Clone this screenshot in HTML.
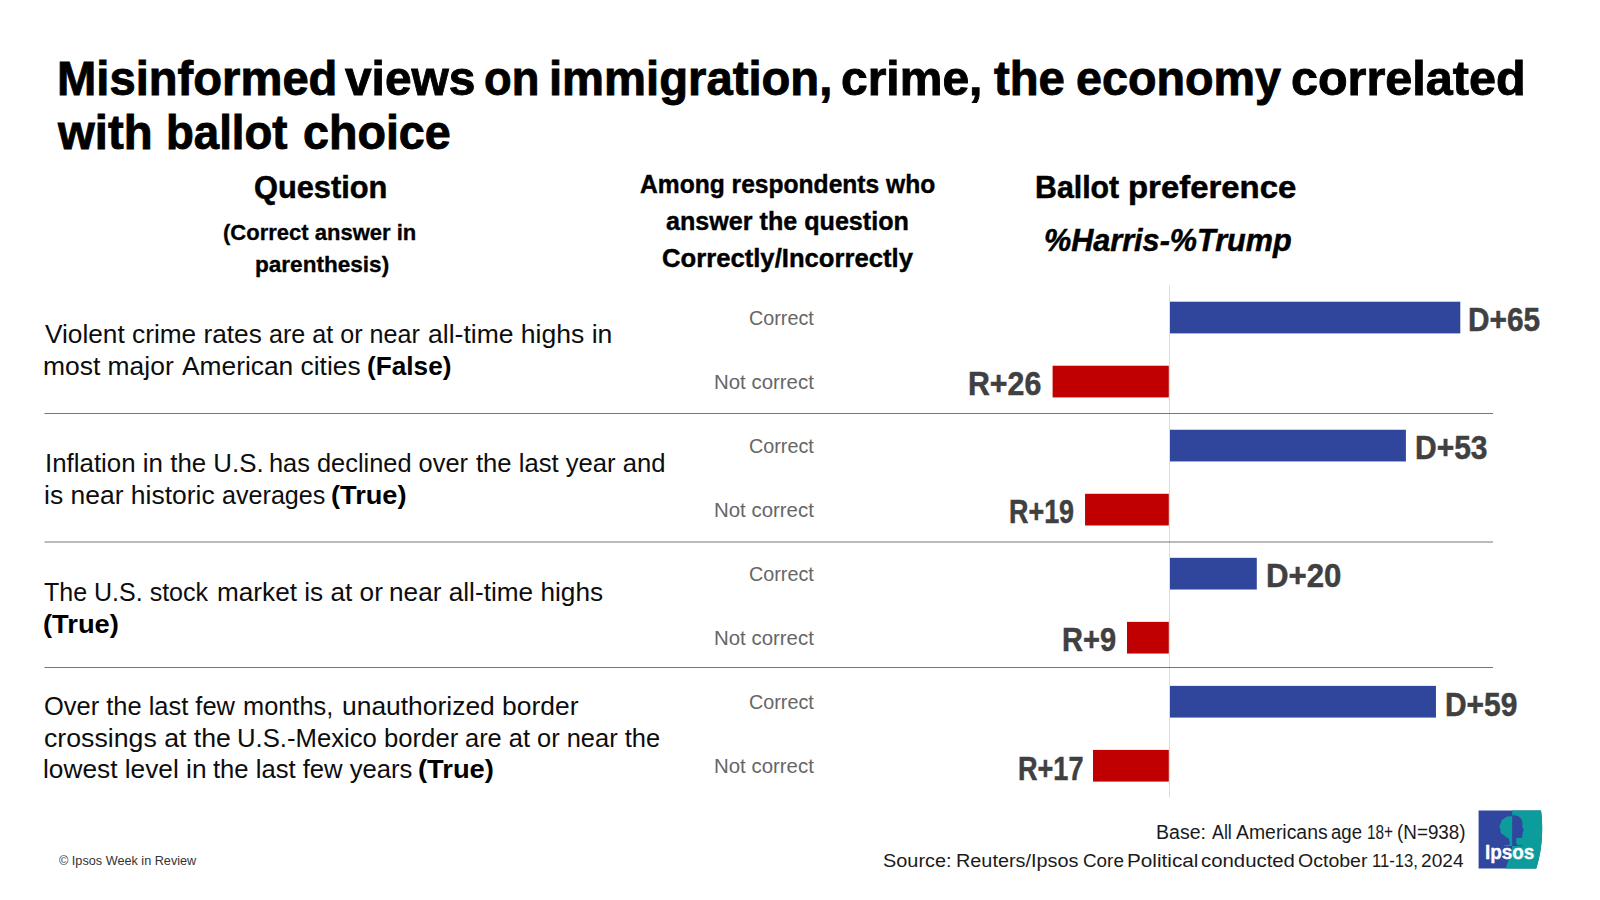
<!DOCTYPE html>
<html lang="en"><head><meta charset="utf-8"><title>Misinformed views on immigration, crime, the economy correlated with ballot choice</title>
<style>

html,body{margin:0;padding:0;background:#fff;}
body{width:1600px;height:900px;position:relative;overflow:hidden;font-family:"Liberation Sans", Arial, sans-serif;}
.t{position:absolute;display:block;white-space:nowrap;transform-origin:0 0;line-height:1;margin:0;padding:0;}
h1,header,section,footer{margin:0;padding:0;font:inherit;display:block;}

</style></head><body>
<svg style="position:absolute;left:0;top:0" width="1600" height="900" viewBox="0 0 1600 900">
<rect x="1169" y="285.5" width="1" height="512" fill="#dcdcdc"/>
<rect x="1170.00" y="301.70" width="290.30" height="31.70" fill="#30459c"/>
<rect x="1052.60" y="365.73" width="116.20" height="31.70" fill="#c00000"/>
<rect x="1170.00" y="429.76" width="235.90" height="31.70" fill="#30459c"/>
<rect x="1085.05" y="493.79" width="83.75" height="31.70" fill="#c00000"/>
<rect x="1170.00" y="557.82" width="86.80" height="31.70" fill="#30459c"/>
<rect x="1127.00" y="621.85" width="41.80" height="31.70" fill="#c00000"/>
<rect x="1170.00" y="685.88" width="265.95" height="31.70" fill="#30459c"/>
<rect x="1093.00" y="749.91" width="75.80" height="31.70" fill="#c00000"/>
<line x1="44.5" x2="1493" y1="413.5" y2="413.5" stroke="#767676" stroke-width="1"/>
<line x1="44.5" x2="1493" y1="542.0" y2="542.0" stroke="#767676" stroke-width="1"/>
<line x1="44.5" x2="1493" y1="667.5" y2="667.5" stroke="#767676" stroke-width="1"/>
<g id="logo">
<path d="M1478.6,810.5 H1541 C1543,825 1543,848 1536.2,868.4 H1478.6 Z" fill="#30469f"/>
<path d="M1512.2,810.5 H1541 C1543,825 1543,848 1536.2,868.4 H1506 C1507.5,861 1512.2,853 1512.2,845 Z" fill="#0c9c9c"/>
<path d="M1512.2,816.5 C1509,815.8 1506,816.5 1504.5,818.5 C1502,819 1500.5,821 1501,823 C1499.3,824.5 1499.2,827.5 1500.5,829.5 C1499.8,832 1501.5,834.5 1504,835 C1505,836.5 1506.5,837.5 1508,838 C1509.5,839.5 1510,842 1509.8,844.8 L1504,845.3 L1504,845.9 L1512.2,845.9 Z" fill="#0c9c9c"/>
<path d="M1512.2,815.5 C1515,815 1518.5,815.8 1520.5,818 C1522.3,820 1522.8,823 1522.3,826 C1522.3,827.5 1523.5,829 1523.8,830.5 C1523.6,831.3 1522.8,831.5 1522.5,832 L1522.8,833.5 L1522.2,834.5 L1522.5,836 C1522.3,837.8 1521,838.2 1519,838 L1516.5,837.8 C1515.8,840 1516,843 1517,845 L1523,845.4 L1523,845.9 L1512.2,845.9 Z" fill="#30469f"/>
<text x="1484.9" y="858.7" stroke="#fff" stroke-width="0.35" font-family="Liberation Sans, Arial, sans-serif" font-weight="700" font-size="20.6" fill="#fff" textLength="49.5" lengthAdjust="spacingAndGlyphs">Ipsos</text>
</g>

</svg>
<h1>
<b class="t" style="left:56.58px;top:54px;font-size:48.4px;font-weight:700;color:#000;transform:scaleX(0.9748);-webkit-text-stroke:0.9px #000;">Misinformed</b>
<b class="t" style="left:345.00px;top:54px;font-size:48.4px;font-weight:700;color:#000;transform:scaleX(0.9892);-webkit-text-stroke:0.9px #000;">views</b>
<b class="t" style="left:484.06px;top:54px;font-size:48.4px;font-weight:700;color:#000;transform:scaleX(0.9359);-webkit-text-stroke:0.9px #000;">on</b>
<b class="t" style="left:548.57px;top:54px;font-size:48.4px;font-weight:700;color:#000;transform:scaleX(0.9757);-webkit-text-stroke:0.9px #000;">immigration,</b>
<b class="t" style="left:841.01px;top:54px;font-size:48.4px;font-weight:700;color:#000;transform:scaleX(0.9919);-webkit-text-stroke:0.9px #000;">crime,</b>
<b class="t" style="left:993.50px;top:54px;font-size:48.4px;font-weight:700;color:#000;transform:scaleX(0.9767);-webkit-text-stroke:0.9px #000;">the</b>
<b class="t" style="left:1076.04px;top:54px;font-size:48.4px;font-weight:700;color:#000;transform:scaleX(0.9644);-webkit-text-stroke:0.9px #000;">economy</b>
<b class="t" style="left:1291.00px;top:54px;font-size:48.4px;font-weight:700;color:#000;transform:scaleX(1.0025);-webkit-text-stroke:0.9px #000;">correlated</b>
<b class="t" style="left:58.47px;top:108px;font-size:48.4px;font-weight:700;color:#000;transform:scaleX(0.9769);-webkit-text-stroke:0.9px #000;">with</b>
<b class="t" style="left:165.68px;top:108px;font-size:48.4px;font-weight:700;color:#000;transform:scaleX(0.9411);-webkit-text-stroke:0.9px #000;">ballot</b>
<b class="t" style="left:302.54px;top:108px;font-size:48.4px;font-weight:700;color:#000;transform:scaleX(0.9638);-webkit-text-stroke:0.9px #000;">choice</b>
</h1>
<header>
<b class="t" style="left:254.00px;top:173px;font-size:30.7px;font-weight:700;color:#000;transform:scaleX(1.0028);-webkit-text-stroke:0.5px #000;">Question</b>
<b class="t" style="left:223.36px;top:222px;font-size:21.2px;font-weight:700;color:#000;transform:scaleX(1.0386);-webkit-text-stroke:0.3px #000;">(Correct answer in</b>
<b class="t" style="left:254.93px;top:254px;font-size:21.2px;font-weight:700;color:#000;transform:scaleX(1.0651);-webkit-text-stroke:0.3px #000;">parenthesis)</b>
<b class="t" style="left:640.00px;top:172px;font-size:25.0px;font-weight:700;color:#000;transform:scaleX(0.9842);-webkit-text-stroke:0.4px #000;">Among respondents who</b>
<b class="t" style="left:666.40px;top:209px;font-size:25.0px;font-weight:700;color:#000;transform:scaleX(1.0048);-webkit-text-stroke:0.4px #000;">answer the question</b>
<b class="t" style="left:661.97px;top:246px;font-size:25.0px;font-weight:700;color:#000;transform:scaleX(1.0261);-webkit-text-stroke:0.4px #000;">Correctly/Incorrectly</b>
<b class="t" style="left:1035.03px;top:173px;font-size:30.7px;font-weight:700;color:#000;transform:scaleX(0.9877);-webkit-text-stroke:0.5px #000;">Ballot</b>
<b class="t" style="left:1127.86px;top:173px;font-size:30.7px;font-weight:700;color:#000;transform:scaleX(1.0720);-webkit-text-stroke:0.5px #000;">preference</b>
<b class="t" style="left:1044.00px;top:225px;font-size:30.5px;font-weight:700;color:#000;transform:scaleX(1.0030);font-style:italic;-webkit-text-stroke:0.5px #000;">%Harris-%Trump</b>
</header>
<section>
<span class="t" style="left:45.20px;top:322px;font-size:25.2px;font-weight:400;color:#0d0d0d;transform:scaleX(1.0418);">Violent crime rates</span>
<span class="t" style="left:269.00px;top:322px;font-size:25.2px;font-weight:400;color:#0d0d0d;transform:scaleX(0.9972);">are at or near</span>
<span class="t" style="left:427.55px;top:322px;font-size:25.2px;font-weight:400;color:#0d0d0d;transform:scaleX(1.0533);">all-time highs in</span>
<span class="t" style="left:43.13px;top:354px;font-size:25.2px;font-weight:400;color:#0d0d0d;transform:scaleX(1.0491);">most major</span>
<span class="t" style="left:182.00px;top:354px;font-size:25.2px;font-weight:400;color:#0d0d0d;transform:scaleX(1.0460);">American cities</span>
<b class="t" style="left:366.97px;top:354px;font-size:25.2px;font-weight:700;color:#000;transform:scaleX(1.0403);">(False)</b>
<span class="t" style="left:44.74px;top:451px;font-size:25.2px;font-weight:400;color:#0d0d0d;transform:scaleX(1.0277);">Inflation in the U.S.</span>
<span class="t" style="left:269.39px;top:451px;font-size:25.2px;font-weight:400;color:#0d0d0d;transform:scaleX(1.0080);">has declined over</span>
<span class="t" style="left:476.00px;top:451px;font-size:25.2px;font-weight:400;color:#0d0d0d;transform:scaleX(1.0172);">the last year and</span>
<span class="t" style="left:43.94px;top:483px;font-size:25.2px;font-weight:400;color:#0d0d0d;transform:scaleX(1.0511);">is near historic</span>
<span class="t" style="left:221.60px;top:483px;font-size:25.2px;font-weight:400;color:#0d0d0d;transform:scaleX(0.9978);">averages</span>
<b class="t" style="left:330.92px;top:483px;font-size:25.2px;font-weight:700;color:#000;transform:scaleX(1.0791);">(True)</b>
<span class="t" style="left:44.19px;top:580px;font-size:25.2px;font-weight:400;color:#0d0d0d;transform:scaleX(0.9929);">The U.S. stock</span>
<span class="t" style="left:216.55px;top:580px;font-size:25.2px;font-weight:400;color:#0d0d0d;transform:scaleX(1.0394);">market is at or</span>
<span class="t" style="left:388.55px;top:580px;font-size:25.2px;font-weight:400;color:#0d0d0d;transform:scaleX(1.0402);">near all-time highs</span>
<b class="t" style="left:42.51px;top:612px;font-size:25.2px;font-weight:700;color:#000;transform:scaleX(1.0850);">(True)</b>
<span class="t" style="left:44.19px;top:694px;font-size:25.2px;font-weight:400;color:#0d0d0d;transform:scaleX(1.0106);">Over the last few</span>
<span class="t" style="left:243.38px;top:694px;font-size:25.2px;font-weight:400;color:#0d0d0d;transform:scaleX(1.0073);">months,</span>
<span class="t" style="left:341.95px;top:694px;font-size:25.2px;font-weight:400;color:#0d0d0d;transform:scaleX(1.0489);">unauthorized border</span>
<span class="t" style="left:44.14px;top:726px;font-size:25.2px;font-weight:400;color:#0d0d0d;transform:scaleX(1.0597);">crossings at the</span>
<span class="t" style="left:236.57px;top:726px;font-size:25.2px;font-weight:400;color:#0d0d0d;transform:scaleX(1.0197);">U.S.-Mexico border</span>
<span class="t" style="left:464.99px;top:726px;font-size:25.2px;font-weight:400;color:#0d0d0d;transform:scaleX(1.0093);">are at or near the</span>
<span class="t" style="left:43.14px;top:757px;font-size:25.2px;font-weight:400;color:#0d0d0d;transform:scaleX(1.0429);">lowest level in</span>
<span class="t" style="left:212.60px;top:757px;font-size:25.2px;font-weight:400;color:#0d0d0d;transform:scaleX(1.0174);">the last few years</span>
<b class="t" style="left:418.32px;top:757px;font-size:25.2px;font-weight:700;color:#000;transform:scaleX(1.0852);">(True)</b>
</section>
<section>
<span class="t" style="left:748.58px;top:309px;font-size:19.3px;font-weight:400;color:#666666;transform:scaleX(1.0250);">Correct</span>
<span class="t" style="left:713.51px;top:373px;font-size:19.3px;font-weight:400;color:#666666;transform:scaleX(1.0588);">Not correct</span>
<span class="t" style="left:748.58px;top:437px;font-size:19.3px;font-weight:400;color:#666666;transform:scaleX(1.0250);">Correct</span>
<span class="t" style="left:713.51px;top:501px;font-size:19.3px;font-weight:400;color:#666666;transform:scaleX(1.0588);">Not correct</span>
<span class="t" style="left:748.58px;top:565px;font-size:19.3px;font-weight:400;color:#666666;transform:scaleX(1.0250);">Correct</span>
<span class="t" style="left:713.51px;top:629px;font-size:19.3px;font-weight:400;color:#666666;transform:scaleX(1.0588);">Not correct</span>
<span class="t" style="left:748.58px;top:693px;font-size:19.3px;font-weight:400;color:#666666;transform:scaleX(1.0250);">Correct</span>
<span class="t" style="left:713.51px;top:757px;font-size:19.3px;font-weight:400;color:#666666;transform:scaleX(1.0588);">Not correct</span>
</section>
<section>
<b class="t" style="left:1468.42px;top:303px;font-size:33.4px;font-weight:700;color:#404040;transform:scaleX(0.8928);-webkit-text-stroke:0.5px #404040;">D+65</b>
<b class="t" style="left:968.49px;top:367px;font-size:33.4px;font-weight:700;color:#404040;transform:scaleX(0.9068);-webkit-text-stroke:0.5px #404040;">R+26</b>
<b class="t" style="left:1415.00px;top:431px;font-size:33.4px;font-weight:700;color:#404040;transform:scaleX(0.8980);-webkit-text-stroke:0.5px #404040;">D+53</b>
<b class="t" style="left:1009.18px;top:495px;font-size:33.4px;font-weight:700;color:#404040;transform:scaleX(0.8058);-webkit-text-stroke:0.5px #404040;">R+19</b>
<b class="t" style="left:1266.13px;top:559px;font-size:33.4px;font-weight:700;color:#404040;transform:scaleX(0.9339);-webkit-text-stroke:0.5px #404040;">D+20</b>
<b class="t" style="left:1061.86px;top:623px;font-size:33.4px;font-weight:700;color:#404040;transform:scaleX(0.8690);-webkit-text-stroke:0.5px #404040;">R+9</b>
<b class="t" style="left:1444.90px;top:688px;font-size:33.4px;font-weight:700;color:#404040;transform:scaleX(0.8967);-webkit-text-stroke:0.5px #404040;">D+59</b>
<b class="t" style="left:1017.98px;top:752px;font-size:33.4px;font-weight:700;color:#404040;transform:scaleX(0.8109);-webkit-text-stroke:0.5px #404040;">R+17</b>
</section>
<footer>
<span class="t" style="left:1155.59px;top:822px;font-size:20.0px;font-weight:400;color:#1a1a1a;transform:scaleX(0.9762);">Base:</span>
<span class="t" style="left:1211.61px;top:822px;font-size:20.0px;font-weight:400;color:#1a1a1a;transform:scaleX(0.8918);">All</span>
<span class="t" style="left:1236.40px;top:822px;font-size:20.0px;font-weight:400;color:#1a1a1a;transform:scaleX(0.9697);">Americans</span>
<span class="t" style="left:1330.89px;top:822px;font-size:20.0px;font-weight:400;color:#1a1a1a;transform:scaleX(0.9304);">age</span>
<span class="t" style="left:1367.42px;top:822px;font-size:20.0px;font-weight:400;color:#1a1a1a;transform:scaleX(0.7693);">18+</span>
<span class="t" style="left:1397.25px;top:822px;font-size:20.0px;font-weight:400;color:#1a1a1a;transform:scaleX(0.9419);">(N=938)</span>
<span class="t" style="left:883.37px;top:852px;font-size:18.8px;font-weight:400;color:#1a1a1a;transform:scaleX(1.0588);">Source:</span>
<span class="t" style="left:955.53px;top:852px;font-size:18.8px;font-weight:400;color:#1a1a1a;transform:scaleX(1.0562);">Reuters/Ipsos</span>
<span class="t" style="left:1082.97px;top:852px;font-size:18.8px;font-weight:400;color:#1a1a1a;transform:scaleX(1.0043);">Core</span>
<span class="t" style="left:1126.87px;top:852px;font-size:18.8px;font-weight:400;color:#1a1a1a;transform:scaleX(1.1038);">Political</span>
<span class="t" style="left:1201.18px;top:852px;font-size:18.8px;font-weight:400;color:#1a1a1a;transform:scaleX(1.0838);">conducted</span>
<span class="t" style="left:1297.79px;top:852px;font-size:18.8px;font-weight:400;color:#1a1a1a;transform:scaleX(1.0399);">October</span>
<span class="t" style="left:1372.31px;top:852px;font-size:18.8px;font-weight:400;color:#1a1a1a;transform:scaleX(0.8865);">11-13,</span>
<span class="t" style="left:1420.96px;top:852px;font-size:18.8px;font-weight:400;color:#1a1a1a;transform:scaleX(1.0175);">2024</span>
<span class="t" style="left:58.60px;top:855px;font-size:12.8px;font-weight:400;color:#333;transform:scaleX(0.9900);">© Ipsos Week in Review</span>
</footer>
</body></html>
